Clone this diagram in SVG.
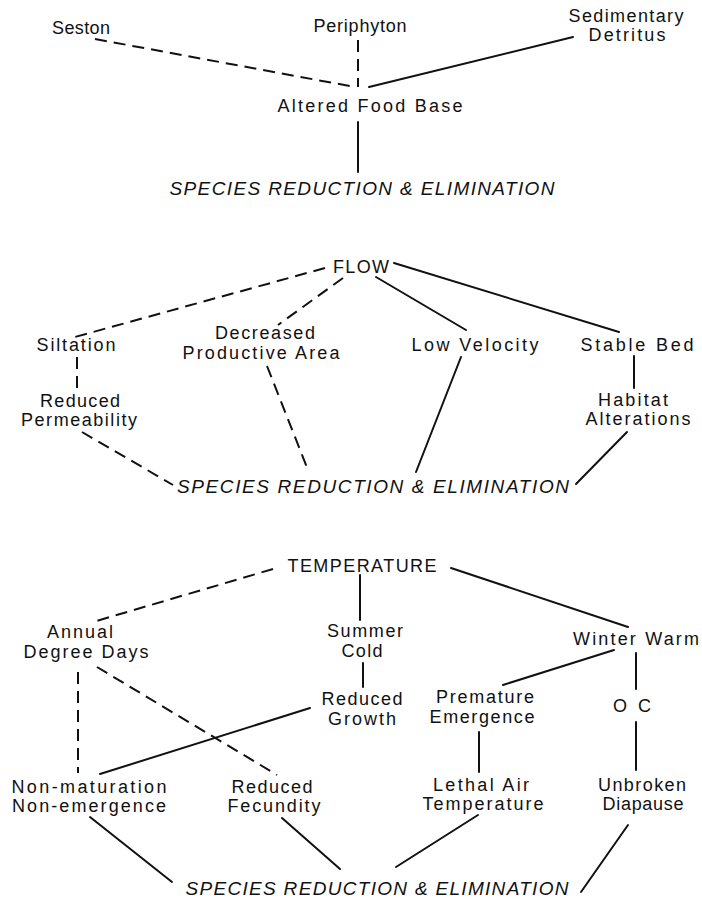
<svg xmlns="http://www.w3.org/2000/svg" width="702" height="899" viewBox="0 0 702 899">
<style>
text{font-family:"Liberation Sans",Arial,sans-serif;font-size:18px;fill:#111;text-anchor:middle}
.it{font-style:italic;font-size:19px}
.s{stroke:#111;stroke-width:2;fill:none;stroke-linecap:round}
.d{stroke:#111;stroke-width:2;fill:none;stroke-dasharray:12 7}
</style>
<rect width="702" height="899" fill="#fff"/>
<g id="connectors">
<line class="d" x1="95" y1="39" x2="355" y2="87"/>
<line class="d" x1="358" y1="40" x2="358" y2="87"/>
<line class="s" x1="369" y1="87" x2="573" y2="37"/>
<line class="s" x1="358" y1="122" x2="358" y2="172"/>
<line class="d" x1="325" y1="268" x2="75" y2="337"/>
<line class="d" x1="343" y1="278" x2="278" y2="325"/>
<line class="s" x1="376" y1="277" x2="466" y2="330"/>
<line class="s" x1="394" y1="263" x2="619" y2="332"/>
<line class="d" x1="77" y1="357" x2="77" y2="388"/>
<line class="d" x1="267" y1="366" x2="308" y2="470"/>
<line class="s" x1="461" y1="357" x2="416" y2="472"/>
<line class="s" x1="634" y1="356" x2="634" y2="388"/>
<line class="d" x1="82" y1="432" x2="173" y2="485"/>
<line class="s" x1="627" y1="432" x2="576" y2="484"/>
<line class="d" x1="273" y1="569" x2="93" y2="622"/>
<line class="s" x1="360" y1="575" x2="360" y2="620"/>
<line class="s" x1="451" y1="568" x2="628" y2="627"/>
<line class="s" x1="363" y1="663" x2="363" y2="687"/>
<line class="s" x1="614" y1="650" x2="503" y2="685"/>
<line class="s" x1="636" y1="653" x2="636" y2="689"/>
<line class="s" x1="636" y1="722" x2="636" y2="770"/>
<line class="s" x1="479" y1="732" x2="479" y2="772"/>
<line class="d" x1="78" y1="672" x2="78" y2="773"/>
<line class="d" x1="97" y1="667" x2="277" y2="775"/>
<line class="s" x1="310" y1="708" x2="100" y2="774"/>
<line class="s" x1="90" y1="817" x2="172" y2="882"/>
<line class="s" x1="282" y1="818" x2="340" y2="869"/>
<line class="s" x1="478" y1="815" x2="396" y2="867"/>
<line class="s" x1="628" y1="825" x2="581" y2="892"/>
</g>
<g id="seston"><text x="81" y="34" textLength="58" lengthAdjust="spacing">Seston</text></g>
<g id="periphyton"><text x="360" y="32" textLength="93" lengthAdjust="spacing">Periphyton</text></g>
<g id="sedimentary"><text x="626" y="22" textLength="115" lengthAdjust="spacing">Sedimentary</text><text x="627" y="41" textLength="77" lengthAdjust="spacing">Detritus</text></g>
<g id="altered"><text x="370" y="112" textLength="185" lengthAdjust="spacing">Altered Food Base</text></g>
<g id="species1"><text class="it" x="362" y="195" textLength="385" lengthAdjust="spacing">SPECIES REDUCTION &amp; ELIMINATION</text></g>
<g id="flow"><text x="361" y="273" textLength="56" lengthAdjust="spacing">FLOW</text></g>
<g id="siltation"><text x="76" y="351" textLength="79" lengthAdjust="spacing">Siltation</text></g>
<g id="decreased"><text x="265" y="339" textLength="100" lengthAdjust="spacing">Decreased</text><text x="261" y="359" textLength="157" lengthAdjust="spacing">Productive Area</text></g>
<g id="lowvel"><text x="475" y="351" textLength="127" lengthAdjust="spacing">Low Velocity</text></g>
<g id="stable"><text x="637" y="351" textLength="113" lengthAdjust="spacing">Stable Bed</text></g>
<g id="permeability"><text x="80" y="407" textLength="80" lengthAdjust="spacing">Reduced</text><text x="79" y="426" textLength="116" lengthAdjust="spacing">Permeability</text></g>
<g id="habitat"><text x="633" y="406" textLength="70" lengthAdjust="spacing">Habitat</text><text x="638" y="425" textLength="105" lengthAdjust="spacing">Alterations</text></g>
<g id="species2"><text class="it" x="373" y="493" textLength="392" lengthAdjust="spacing">SPECIES REDUCTION &amp; ELIMINATION</text></g>
<g id="temperature"><text x="362" y="572" textLength="149" lengthAdjust="spacing">TEMPERATURE</text></g>
<g id="annual"><text x="80" y="638" textLength="66" lengthAdjust="spacing">Annual</text><text x="86" y="658" textLength="125" lengthAdjust="spacing">Degree Days</text></g>
<g id="summer"><text x="365" y="637" textLength="76" lengthAdjust="spacing">Summer</text><text x="362" y="657" textLength="41" lengthAdjust="spacing">Cold</text></g>
<g id="winter"><text x="636" y="645" textLength="126" lengthAdjust="spacing">Winter Warm</text></g>
<g id="growth"><text x="362" y="705" textLength="81" lengthAdjust="spacing">Reduced</text><text x="362" y="725" textLength="68" lengthAdjust="spacing">Growth</text></g>
<g id="premature"><text x="485" y="703" textLength="98" lengthAdjust="spacing">Premature</text><text x="482" y="723" textLength="105" lengthAdjust="spacing">Emergence</text></g>
<g id="oc"><text x="632" y="712" textLength="38" lengthAdjust="spacing">O C</text></g>
<g id="nonmat"><text x="89" y="793" textLength="155" lengthAdjust="spacing">Non-maturation</text><text x="89" y="812" textLength="154" lengthAdjust="spacing">Non-emergence</text></g>
<g id="fecundity"><text x="272" y="793" textLength="81" lengthAdjust="spacing">Reduced</text><text x="274" y="812" textLength="93" lengthAdjust="spacing">Fecundity</text></g>
<g id="lethal"><text x="481" y="791" textLength="96" lengthAdjust="spacing">Lethal Air</text><text x="483" y="810" textLength="121" lengthAdjust="spacing">Temperature</text></g>
<g id="diapause"><text x="642" y="791" textLength="88" lengthAdjust="spacing">Unbroken</text><text x="643" y="810" textLength="81" lengthAdjust="spacing">Diapause</text></g>
<g id="species3"><text class="it" x="377" y="895" textLength="383" lengthAdjust="spacing">SPECIES REDUCTION &amp; ELIMINATION</text></g>
</svg>
